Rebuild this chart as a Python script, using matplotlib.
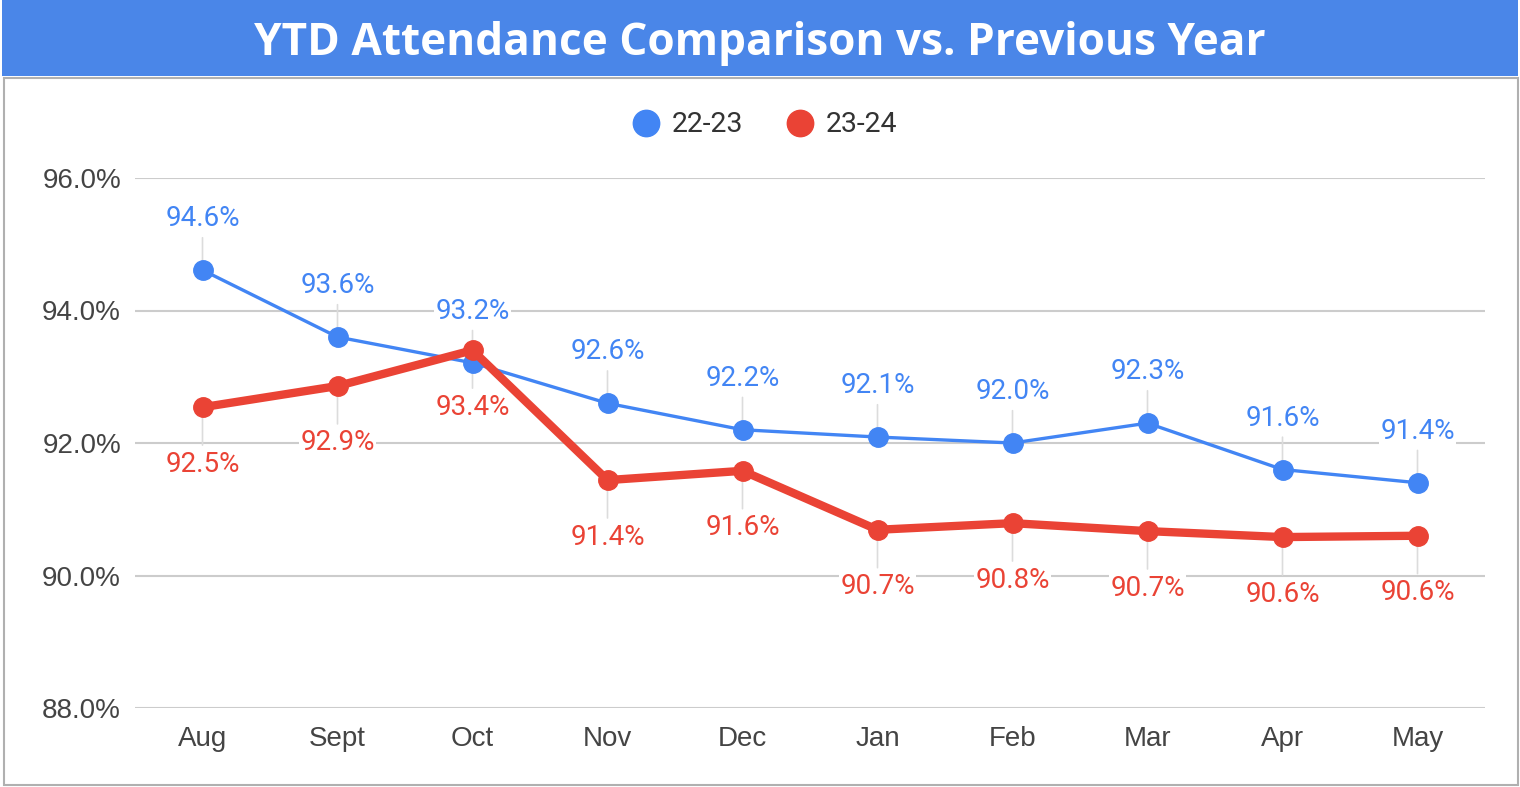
import matplotlib
matplotlib.use('Agg')
import matplotlib.pyplot as plt
from matplotlib.lines import Line2D
from matplotlib.patches import Rectangle

# data
months = ['Aug', 'Sept', 'Oct', 'Nov', 'Dec', 'Jan', 'Feb', 'Mar', 'Apr', 'May']
prev_year = [94.61, 93.60, 93.21, 92.60, 92.20, 92.09, 92.00, 92.30, 91.60, 91.40]
this_year = [92.54, 92.86, 93.40, 91.44, 91.58, 90.69, 90.79, 90.67, 90.58, 90.60]
y_ticks = [88, 90, 92, 94, 96]

BLUE = '#4285f4'
RED = '#ea4335'
TITLE_BG = '#4a86e8'

fig = plt.figure(figsize=(15.2, 7.87), dpi=100)
fig.patch.set_facecolor('white')

# title bar and outer border
fig.patches.append(Rectangle((2 / 1520, 1 - 76 / 787), 1516 / 1520, 76 / 787,
                             transform=fig.transFigure, facecolor=TITLE_BG,
                             edgecolor='none', zorder=0))
fig.patches.append(Rectangle((4 / 1520, 2 / 787), 1514 / 1520, 1 - 78 / 787 - 2 / 787,
                             transform=fig.transFigure, facecolor='none',
                             edgecolor='#b0b0b0', linewidth=1.5, zorder=0))
fig.text(0.50, 1 - 44 / 787, 'YTD Attendance Comparison vs. Previous Year',
         ha='center', va='center', color='white', fontsize=31.8,
         fontweight='bold', family='Open Sans')

ax = fig.add_axes([135 / 1520, 1 - 708 / 787, 1350 / 1520, 530 / 787])
x = list(range(len(months)))

ax.plot(x, prev_year, color=BLUE, lw=2.4, marker='o', ms=14, zorder=4)
ax.plot(x, this_year, color=RED, lw=6, marker='o', ms=14, zorder=5)


def add_labels(values, color, offset):
    for xi, v in zip(x, values):
        ax.annotate(f'{v:.1f}%', xy=(xi, v), xytext=(0, offset),
                    textcoords='offset points', ha='center', va='center',
                    color=color, fontsize=20, family='Roboto', zorder=3,
                    bbox=dict(boxstyle='square,pad=0.05', fc='white', ec='none'),
                    arrowprops=dict(arrowstyle='-', color='#dcdcdc', lw=1.2,
                                    shrinkA=3, shrinkB=0))


add_labels(prev_year, BLUE, 37)
add_labels(this_year, RED, -41)

ax.set_xlim(-0.5, len(months) - 0.5)
ax.set_ylim(88, 96)
ax.set_yticks(y_ticks)
ax.set_yticklabels([f'{t:.1f}%' for t in y_ticks])
ax.set_xticks(x)
ax.set_xticklabels(months)
ax.tick_params(length=0, labelsize=20, labelcolor='#444444')
ax.tick_params(axis='y', pad=10)
ax.tick_params(axis='x', pad=13)
for lbl in ax.get_xticklabels() + ax.get_yticklabels():
    lbl.set_family('Liberation Sans')
ax.grid(axis='y', color='#cccccc', lw=1.5)
ax.set_axisbelow(True)
for s in ax.spines.values():
    s.set_visible(False)

handles = [Line2D([], [], ls='none', marker='o', ms=19, color=BLUE),
           Line2D([], [], ls='none', marker='o', ms=19, color=RED)]
leg = fig.legend(handles, ['22-23', '23-24'], loc='center', ncol=2,
                 bbox_to_anchor=(0.502, 1 - 125 / 787), frameon=False,
                 prop={'family': 'Roboto', 'size': 20.5}, handletextpad=0.3,
                 columnspacing=1.4, handlelength=1.2)
for t in leg.get_texts():
    t.set_color('#333333')

fig.savefig('out.png', dpi=100, facecolor='white')
